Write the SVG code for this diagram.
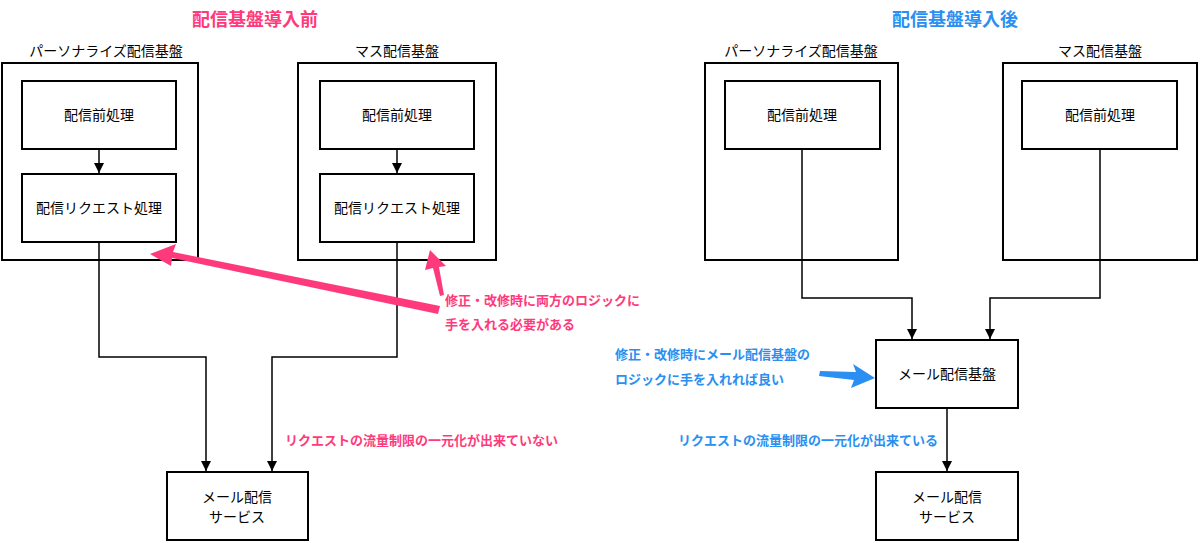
<svg xmlns="http://www.w3.org/2000/svg" width="1200" height="543" viewBox="0 0 1200 543">
<style>
text{font-family:"Noto Sans CJK JP","Noto Sans",sans-serif;}
.b{fill:#fff;stroke:#000;stroke-width:2}
.l{font-size:14px;fill:#000;text-anchor:middle}
.c{fill:none;stroke:#000;stroke-width:1.5}
.p{fill:#ff3a7c;font-size:13px;font-weight:bold}
.u{fill:#2a8ff0;font-size:13px;font-weight:bold}
.t{font-size:18px;font-weight:bold;text-anchor:middle}
</style>
<defs><marker id="a" viewBox="0 0 10 10" refX="10" refY="5" markerWidth="7" markerHeight="7" orient="auto"><path d="M0,0L10,5L0,10z" fill="#000"/></marker></defs>
<rect width="1200" height="543" fill="#fff"/>
<text class="t" x="255" y="26" fill="#ff3a7c">配信基盤導入前</text>
<text class="t" x="955" y="26" fill="#2a8ff0">配信基盤導入後</text>
<g id="lp"><rect class="b" x="2" y="63" width="196" height="197"/><text class="l" x="106" y="56">パーソナライズ配信基盤</text></g>
<g id="lp1"><rect class="b" x="22" y="81" width="154" height="68"/><text class="l" x="99" y="120">配信前処理</text></g>
<g id="lp2"><rect class="b" x="22" y="174" width="154" height="68"/><text class="l" x="99" y="213">配信リクエスト処理</text></g>
<g id="lm"><rect class="b" x="298" y="63" width="198" height="197"/><text class="l" x="397" y="56">マス配信基盤</text></g>
<g id="lm1"><rect class="b" x="320" y="81" width="154" height="68"/><text class="l" x="397" y="120">配信前処理</text></g>
<g id="lm2"><rect class="b" x="320" y="174" width="154" height="68"/><text class="l" x="397" y="213">配信リクエスト処理</text></g>
<g id="lmail"><rect class="b" x="167" y="472" width="141" height="68"/><text class="l" x="237" y="502">メール配信</text><text class="l" x="237" y="522">サービス</text></g>
<g id="rp"><rect class="b" x="705" y="63" width="193" height="197"/><text class="l" x="801" y="56">パーソナライズ配信基盤</text></g>
<g id="rp1"><rect class="b" x="725" y="81" width="155" height="68"/><text class="l" x="802" y="120">配信前処理</text></g>
<g id="rm"><rect class="b" x="1003" y="63" width="194" height="197"/><text class="l" x="1100" y="56">マス配信基盤</text></g>
<g id="rm1"><rect class="b" x="1022" y="81" width="155" height="68"/><text class="l" x="1100" y="120">配信前処理</text></g>
<g id="rbase"><rect class="b" x="876" y="340" width="142" height="68"/><text class="l" x="947" y="379">メール配信基盤</text></g>
<g id="rmail"><rect class="b" x="876" y="472" width="142" height="68"/><text class="l" x="947" y="502">メール配信</text><text class="l" x="947" y="522">サービス</text></g>
<g id="connectors">
<path class="c" d="M99,149V173" marker-end="url(#a)"/>
<path class="c" d="M397,149V173" marker-end="url(#a)"/>
<path class="c" d="M99,242V357H206V471" marker-end="url(#a)"/>
<path class="c" d="M397,242V357H272V471" marker-end="url(#a)"/>
<path class="c" d="M802,149V298H912V339" marker-end="url(#a)"/>
<path class="c" d="M1100,149V298H990V339" marker-end="url(#a)"/>
<path class="c" d="M947,408V471" marker-end="url(#a)"/>
<path d="M438,314L172,258L171,266L150,254L176,244L173,252L440,306z" fill="#ff3a7c"/>
<path d="M440,296L433,268L425,270L430,250L446,266L439,267L444,295z" fill="#ff3a7c"/>
<path d="M820,371L856,372L853,364L875,378L851,388L854,380L819,376z" fill="#2a8ff0"/>
</g>
<text class="p" x="445" y="305">修正・改修時に両方のロジックに</text>
<text class="p" x="445" y="329">手を入れる必要がある</text>
<text class="p" x="285" y="445">リクエストの流量制限の一元化が出来ていない</text>
<text class="u" x="615" y="359">修正・改修時にメール配信基盤の</text>
<text class="u" x="615" y="384">ロジックに手を入れれば良い</text>
<text class="u" x="678" y="445">リクエストの流量制限の一元化が出来ている</text>
</svg>
